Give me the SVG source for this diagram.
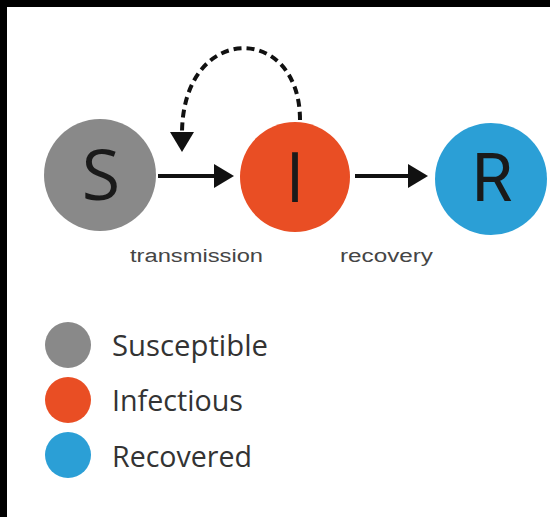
<svg xmlns="http://www.w3.org/2000/svg" width="550" height="517" viewBox="0 0 550 517">
<defs>
<style>
.node-label{font-family:"Open Sans","Noto Sans",sans-serif;font-size:70px;fill:#1a1a1a;text-anchor:middle}
.edge-label{font-family:"Liberation Sans",Arial,sans-serif;font-size:18px;fill:#454545}
.legend-text{font-family:"Open Sans","Noto Sans",sans-serif;font-size:29px;fill:#333}
.conn{stroke:#111;stroke-width:4;fill:none}
.s{fill:#898989}.i{fill:#e94e24}.r{fill:#2b9fd6}
</style>
<marker id="ah" viewBox="0 0 20 24" refX="2" refY="12" markerWidth="20" markerHeight="24" markerUnits="userSpaceOnUse" orient="auto">
<path d="M0,0 L20,12 L0,24 Z" fill="#111"/>
</marker>
</defs>
<rect x="0" y="0" width="550" height="517" fill="#000"/>
<rect x="7" y="7" width="543" height="510" fill="#fff"/>
<g id="connectors">
<line class="conn" x1="158" y1="176" x2="216" y2="176" marker-end="url(#ah)"/>
<line class="conn" x1="355" y1="176" x2="410" y2="176" marker-end="url(#ah)"/>
<path class="conn" d="M300,120 C300,22 182,22 182,134" stroke-width="5" stroke-dasharray="8,5" marker-end="url(#ah)"/>
</g>
<g id="node-S">
<circle class="s" cx="100" cy="175" r="56"/>
<text class="node-label" x="101" y="200">S</text>
</g>
<g id="node-I">
<circle class="i" cx="295" cy="177" r="55"/>
<text class="node-label" x="295" y="202">I</text>
</g>
<g id="node-R">
<circle class="r" cx="491" cy="179" r="56"/>
<text class="node-label" x="492" y="201" style="font-family:Roboto,'Noto Sans',sans-serif;font-size:66px">R</text>
</g>
<g id="edge-labels">
<text class="edge-label" x="130" y="262" textLength="133" lengthAdjust="spacingAndGlyphs">transmission</text>
<text class="edge-label" x="340" y="262" textLength="93" lengthAdjust="spacingAndGlyphs">recovery</text>
</g>
<g id="legend">
<g id="legend-S"><circle class="s" cx="68" cy="345" r="23"/><text class="legend-text" x="112" y="356" textLength="156" lengthAdjust="spacingAndGlyphs">Susceptible</text></g>
<g id="legend-I"><circle class="i" cx="68" cy="400" r="23"/><text class="legend-text" x="112" y="411" textLength="131" lengthAdjust="spacingAndGlyphs">Infectious</text></g>
<g id="legend-R"><circle class="r" cx="68" cy="455" r="23"/><text class="legend-text" x="112" y="467" textLength="140" lengthAdjust="spacingAndGlyphs">Recovered</text></g>
</g>
</svg>
